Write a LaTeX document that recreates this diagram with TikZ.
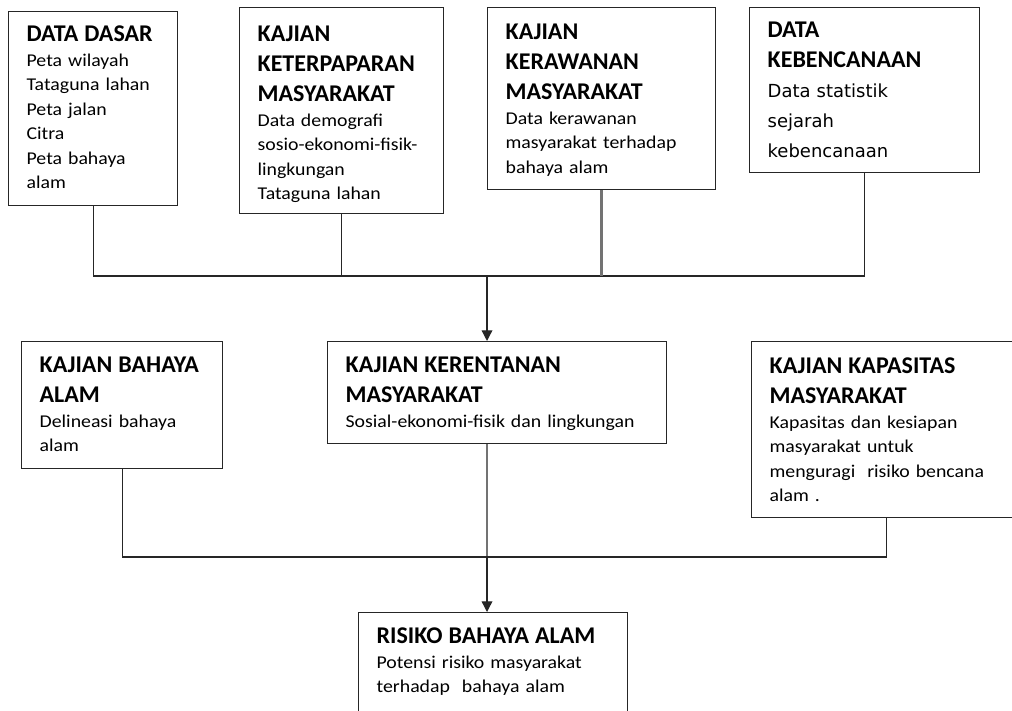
\documentclass[tikz,border=0pt]{standalone}
\usepackage{fontspec}
\setmainfont{Carlito}
\newfontfamily\bodyfam{Carlito}[FakeStretch=1.1]
\newfontfamily\statfam{DejaVu Sans}
\usetikzlibrary{arrows.meta, positioning, calc}
\newlength{\px}
\setlength{\px}{0.75pt}
\newcommand{\hd}{\normalfont\fontsize{18pt}{22.5pt}\selectfont\bfseries}
\newcommand{\bodyfont}{\bodyfam\fontsize{13.5pt}{18.4pt}\selectfont}
\newcommand{\statfont}{\statfam\fontsize{13.5pt}{22.5pt}\selectfont}

\begin{document}
\begin{tikzpicture}[
    x=0.75pt, y=-0.75pt,
    box/.style={draw=black!85, line width=1.3\px, anchor=north west, align=left,
                inner xsep=18\px, inner ysep=0pt, text height=31\px, font=\bodyfont},
    line/.style={draw=black!85, line width=1.3\px},
    greyline/.style={draw=black!55, line width=2.6\px},
    arr/.style={line, -{Triangle[length=8pt, width=8pt]}},
]
\useasboundingbox (0,0) rectangle (1012,710);
% === Data sources (top row) ===
\node[box, text width=133\px, text height=30\px, text depth=164\px] (dasar) at (8,11)
    {{\hd DATA DASAR\par}Peta wilayah\\Tataguna lahan\\Peta jalan\\Citra\\Peta bahaya\\alam};
\node[box, text width=168\px, text height=34\px, text depth=172\px] (paparan) at (239,7)
    {{\hd KAJIAN\\KETERPAPARAN\\MASYARAKAT\par}Data demografi\\sosio-ekonomi-fisik-\\lingkungan\\Tataguna lahan};
\node[box, text width=192\px, text height=32\px, text depth=150\px] (rawan) at (487,7)
    {{\hd KAJIAN\\KERAWANAN\\MASYARAKAT\par}Data kerawanan\\masyarakat terhadap\\bahaya alam};
\node[box, text width=194\px, text height=30\px, text depth=135\px] (bencana) at (749,7)
    {{\hd DATA\\KEBENCANAAN\par}\statfont Data statistik\\sejarah\\kebencanaan\par};
% === Merge into vulnerability ===
\coordinate (bus1) at (487,276);
\draw[line] (dasar.south) -- (dasar.south |- bus1) -- (bencana.south |- bus1) -- (bencana.south);
\draw[line] (paparan.south) -- (paparan.south |- bus1);
\draw[greyline] (rawan.south) -- (rawan.south |- bus1);
% === Assessment row ===
\node[box, text width=165\px, text depth=96\px] (bahaya) at (21,341)
    {{\hd KAJIAN BAHAYA\\ALAM\par}Delineasi bahaya\\alam};
\node[box, text width=303\px, text depth=71\px] (rentan) at (327,341)
    {{\hd KAJIAN KERENTANAN\\MASYARAKAT\par}Sosial-ekonomi-fisik dan lingkungan};
\node[box, text width=234\px, text height=32\px, text depth=144\px] (kapasitas) at (751,341)
    {{\hd KAJIAN KAPASITAS\\MASYARAKAT\par}Kapasitas dan kesiapan\\masyarakat untuk\\menguragi\ \ risiko bencana\\alam .};
\draw[arr] (bus1) -- (bus1 |- rentan.north);
% === Risk ===
\coordinate (bus2) at (487,557);
\draw[greyline] (bus2 |- rentan.south) -- (bus2);
\draw[line] (bahaya.south) -- (bahaya.south |- bus2) -- (kapasitas.south |- bus2) -- (kapasitas.south);
\node[box, text width=233\px, text depth=79\px] (risiko) at (358,612)
    {{\hd RISIKO BAHAYA ALAM\par}Potensi risiko masyarakat\\terhadap\ \ bahaya alam};
\draw[arr] (bus2) -- (bus2 |- risiko.north);
\end{tikzpicture}
\end{document}
